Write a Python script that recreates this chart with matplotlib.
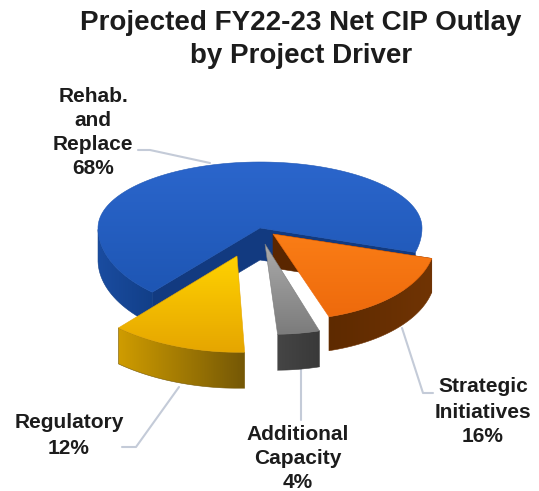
import numpy as np
import matplotlib
matplotlib.use("Agg")
import matplotlib.pyplot as plt
from matplotlib.patches import Polygon
from matplotlib.colors import LinearSegmentedColormap

plt.rcParams['font.family'] = ['Liberation Sans', 'DejaVu Sans']

categories = ["Rehab.\nand\nReplace", "Regulatory", "Additional\nCapacity", "Strategic\nInitiatives"]
shares = [68, 12, 4, 16]

# drawing styles
W, H = 539, 491
RX, RY_UP, RY_DOWN = 162, 66, 86
START = -16.5
apex = [(260, 228), (237, 256), (265, 244), (273, 234)]
scale = [1.0, 1.12, 1.05, 1.0]
skew = [0.0, 0.03, 0.09, 0.14]
depth = [32, 36, 36, 34]
top_cols = [("#2b66cc", "#1e56b4"), ("#ffd200", "#e6a600"), ("#ababab", "#7c7c7c"), ("#fa7d16", "#ee6a0c")]
wall_cols = [("#1a4ca0", "#123f88"), ("#cf9c00", "#755806"), ("#454545", "#393939"), ("#5e2a00", "#703404")]
cut_col = ["#123a80", None, None, "#5a2600"]
draw_order = [0, 3, 2, 1]

fig = plt.figure(figsize=(W / 100, H / 100), dpi=100)
ax = fig.add_axes([0, 0, 1, 1])
ax.set_xlim(0, W)
ax.set_ylim(H, 0)
ax.axis("off")


def pt(i, theta):
    t = np.radians(theta)
    s = np.sin(t)
    ry = np.where(s > 0, RY_UP, RY_DOWN)
    dy = scale[i] * ry * s
    return apex[i][0] + scale[i] * RX * np.cos(t) - skew[i] * dy, apex[i][1] - dy


def grad(verts, cols, vertical=True, z=2):
    v = np.asarray(verts)
    x0, y0 = v.min(0)
    x1, y1 = v.max(0)
    cmap = LinearSegmentedColormap.from_list("c", cols)
    g = np.linspace(0, 1, 64)
    arr = g[:, None] if vertical else g[None, :]
    im = ax.imshow(arr, cmap=cmap, extent=(x0, x1, y1, y0), aspect="auto",
                   interpolation="bilinear", zorder=z, origin="upper")
    p = Polygon(v, closed=True, transform=ax.transData, fc="none", ec="none")
    ax.add_patch(p)
    im.set_clip_path(p)
    ax.add_patch(Polygon(v, closed=True, fc="none", ec=cols[-1], lw=0.4, zorder=z))


edges = START + np.concatenate([[0], np.cumsum(shares)]) * 3.6

z = 2
for i in draw_order:
    a0, a1 = edges[i], edges[i + 1]
    d = depth[i]
    ths = np.linspace(a0, a1, 120)
    xs, ys = pt(i, ths)
    # cut faces
    if cut_col[i]:
        for a in ([a0, a1] if i == 0 else [a1]):
            cx, cy = pt(i, a)
            ax.add_patch(Polygon([apex[i], (cx, cy), (cx, cy + d), (apex[i][0], apex[i][1] + d)],
                                 closed=True, fc=cut_col[i], ec=cut_col[i], lw=0.4, zorder=z))
    # front rim: only the part of the arc facing the viewer
    part = ths[ths >= 180] if i == 0 else ths[np.sin(np.radians(ths)) <= 0]
    rx_, ry_ = pt(i, part)
    wall = np.r_[np.c_[rx_, ry_], np.c_[rx_, ry_ + d][::-1]]
    grad(wall, wall_cols[i], vertical=False, z=z)
    # top face
    top = np.r_[[apex[i]], np.c_[xs, ys]]
    grad(top, top_cols[i], vertical=True, z=z + 0.5)
    z += 1

# leader lines
leaders = [[(138, 150), (150, 150), (210, 163)],
           [(179, 387), (136, 447), (122, 447)],
           [(301, 368), (301, 420)],
           [(402, 328), (423, 393), (433, 393)]]
for seg in leaders:
    sx, sy = zip(*seg)
    ax.plot(sx, sy, color="#c4cbd8", lw=1.5, zorder=1.5, solid_capstyle="round")

# text
tc = "#1c1c1c"
ax.text(301, 23, "Projected FY22-23 Net CIP Outlay", ha="center", va="center",
        fontsize=20, fontweight="bold", color=tc)
ax.text(301, 56, "by Project Driver", ha="center", va="center",
        fontsize=20, fontweight="bold", color=tc)

label_pos = [(93, [96, 120, 144, 169]), (69, [423, 448]), (298, [434, 459, 483]), (483, [387, 412, 437])]
for name, share, (lx, lys) in zip(categories, shares, label_pos):
    for line, ly in zip(name.split("\n") + [f"{share}%"], lys):
        ax.text(lx, ly, line, ha="center", va="center", fontsize=15, fontweight="bold", color=tc)

fig.savefig("out.png", dpi=100)
